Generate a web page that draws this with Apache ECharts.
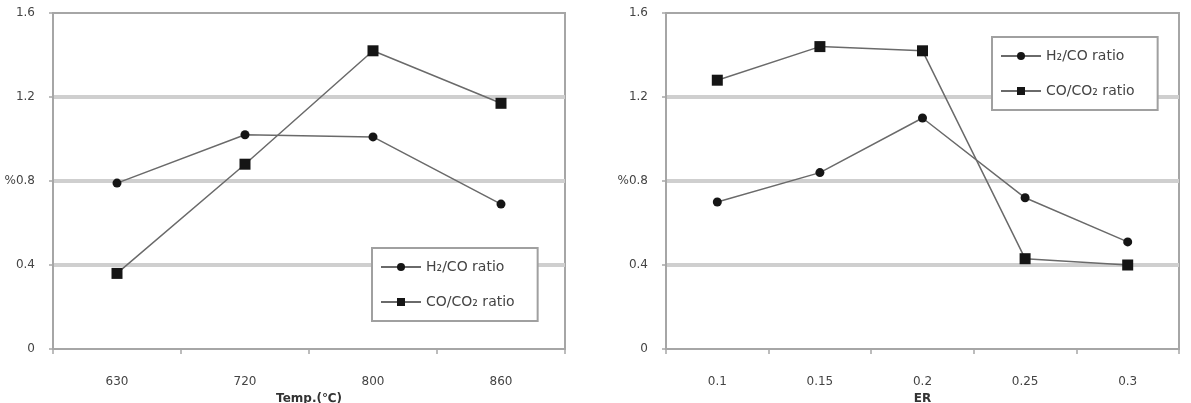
<!DOCTYPE html>
<html>
<head>
<meta charset="utf-8">
<script src="https://cdn.jsdelivr.net/npm/echarts@6/dist/echarts.min.js"></script>
<style>
  html, body { margin: 0; padding: 0; background: #fff; }
  #main { width: 1191px; height: 403px; }
</style>
</head>
<body>
<div id="main"></div>
<script>
// left panel: temperature
var tempCats = ['630', '720', '800', '860']
var tempH2CO = [0.79, 1.02, 1.01, 0.69]
var tempCOCO2 = [0.36, 0.88, 1.42, 1.17]

// right panel: ER
var erCats = ['0.1', '0.15', '0.2', '0.25', '0.3']
var erH2CO = [0.70, 0.84, 1.10, 0.72, 0.51]
var erCOCO2 = [1.28, 1.44, 1.42, 0.43, 0.40]

var yTicks = { min: 0, max: 1.6, interval: 0.4 }
var nameH2 = 'H\u2082/CO ratio'
var nameCO = 'CO/CO\u2082 ratio'

var axisGray = '#a6a6a6'
var gridGray = '#cfcfcf'
var textCol = '#444'
var font = 'DejaVu Sans'

function xAxis (gridIndex, cats, name) {
  return {
    type: 'category',
    gridIndex: gridIndex,
    data: cats,
    boundaryGap: true,
    name: name,
    nameLocation: 'middle',
    nameGap: 44,
    nameTextStyle: { color: '#333', fontSize: 12, fontWeight: 'bold', fontFamily: font },
    axisLine: { lineStyle: { color: axisGray, width: 2 } },
    axisTick: { show: true, inside: false, length: 5, lineStyle: { color: axisGray, width: 1.5 } },
    axisLabel: { margin: 27, color: textCol, fontSize: 12, fontFamily: font },
    splitLine: { show: false }
  }
}

function yAxis (gridIndex) {
  return {
    type: 'value',
    gridIndex: gridIndex,
    min: yTicks.min,
    max: yTicks.max,
    interval: yTicks.interval,
    axisLine: { show: true, lineStyle: { color: axisGray, width: 2 } },
    axisTick: { show: true, length: 4, lineStyle: { color: axisGray, width: 1.5 } },
    axisLabel: {
      margin: 18,
      color: textCol,
      fontSize: 12,
      fontFamily: font,
      formatter: function (v) {
        var s = String(Math.round(v * 10) / 10)
        return v === 0.8 ? '%' + s : s
      }
    },
    splitLine: {
      show: true,
      showMinLine: false,
      showMaxLine: false,
      lineStyle: { color: gridGray, width: 4 }
    }
  }
}

function line (name, idx, data, symbol, size) {
  return {
    name: name,
    type: 'line',
    xAxisIndex: idx,
    yAxisIndex: idx,
    data: data,
    symbol: symbol,
    symbolSize: size,
    showAllSymbol: true,
    lineStyle: { color: '#6a6a6a', width: 1.5 },
    itemStyle: { color: '#151515' },
    z: 3
  }
}

function legend (left, top) {
  return {
    data: [nameH2, nameCO],
    orient: 'vertical',
    left: left,
    top: top,
    itemWidth: 40,
    itemHeight: 10,
    itemGap: 21,
    padding: [12, 23, 12, 8],
    backgroundColor: '#fff',
    borderColor: '#a0a0a0',
    borderWidth: 2,
    textStyle: { color: textCol, fontSize: 14, fontFamily: font },
    selectedMode: false
  }
}

var chart = echarts.init(document.getElementById('main'))
chart.setOption({
  animation: false,
  backgroundColor: '#fff',
  grid: [
    { left: 53, right: 626, top: 13, bottom: 54, outerBoundsMode: 'none', containLabel: false, show: true, borderColor: axisGray, borderWidth: 2 },
    { left: 666, right: 12, top: 13, bottom: 54, outerBoundsMode: 'none', containLabel: false, show: true, borderColor: axisGray, borderWidth: 2 }
  ],
  legend: [legend(372, 248), legend(992, 37)],
  xAxis: [xAxis(0, tempCats, 'Temp.(\u2103)'), xAxis(1, erCats, 'ER')],
  yAxis: [yAxis(0), yAxis(1)],
  series: [
    line(nameH2, 0, tempH2CO, 'circle', 9),
    line(nameCO, 0, tempCOCO2, 'rect', 11),
    line(nameH2, 1, erH2CO, 'circle', 9),
    line(nameCO, 1, erCOCO2, 'rect', 11)
  ]
})
</script>
</body>
</html>
